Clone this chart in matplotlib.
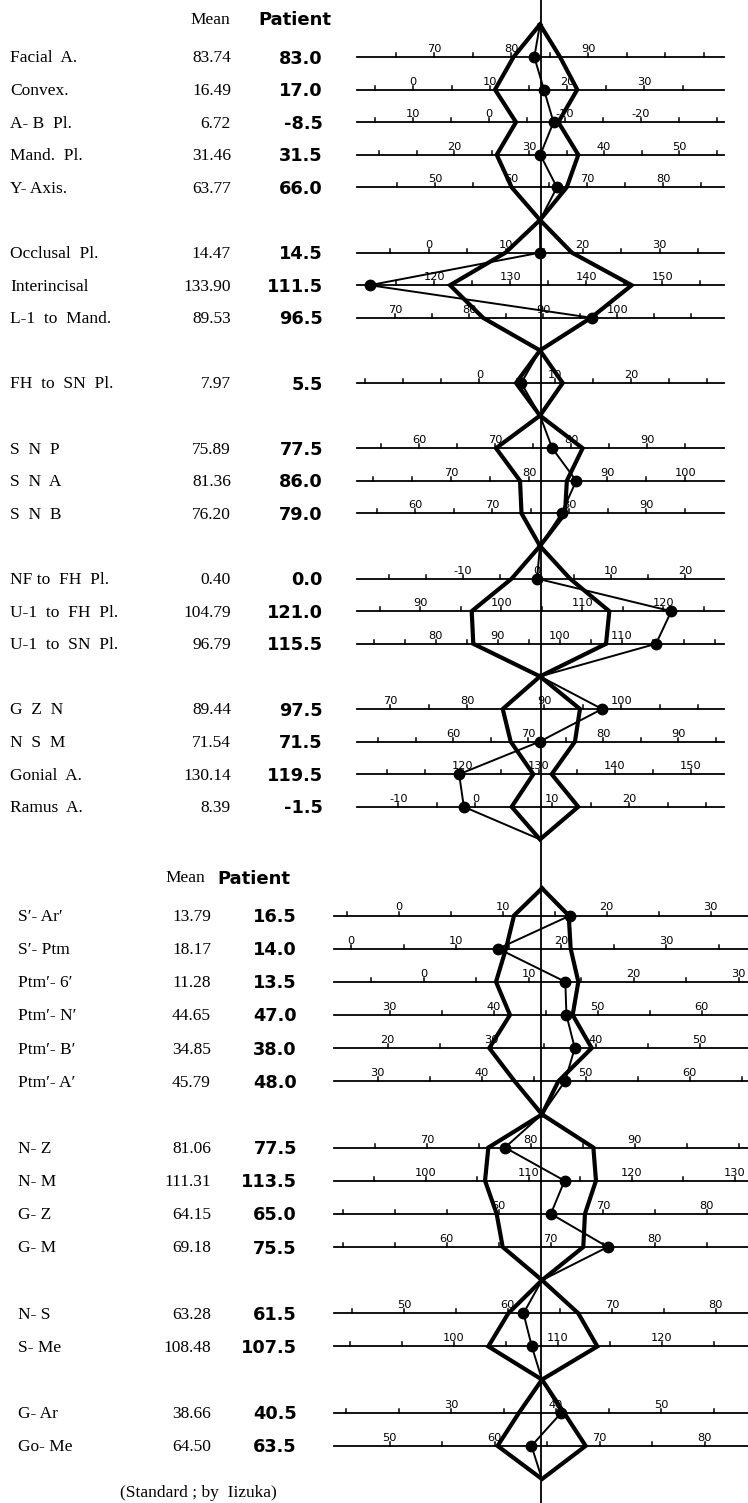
import matplotlib

matplotlib.use("Agg")
import matplotlib.pyplot as plt
import numpy as np

# ---- upper block: angular measurements ----
top_names = [
    "Facial  A.", "Convex.", "A- B  Pl.", "Mand.  Pl.", "Y- Axis.",
    "Occlusal  Pl.", "Interincisal", "L-1  to  Mand.",
    "FH  to  SN  Pl.",
    "S  N  P", "S  N  A", "S  N  B",
    "NF to  FH  Pl.", "U-1  to  FH  Pl.", "U-1  to  SN  Pl.",
    "G  Z  N", "N  S  M", "Gonial  A.", "Ramus  A.",
]
top_means = [83.74, 16.49, 6.72, 31.46, 63.77, 14.47, 133.90, 89.53, 7.97,
             75.89, 81.36, 76.20, 0.40, 104.79, 96.79, 89.44, 71.54, 130.14, 8.39]
top_patient = [83.0, 17.0, -8.5, 31.5, 66.0, 14.5, 111.5, 96.5, 5.5,
               77.5, 86.0, 79.0, 0.0, 121.0, 115.5, 97.5, 71.5, 119.5, -1.5]
# edges of the standard polygon, in each row's own units
top_norm_lo = [80.3, 10.65, -9.13, 25.69, 60.05, 10.0, 122.06, 81.83, 4.81,
               70.1, 78.8, 73.8, -3.42, 96.36, 86.03, 84.6, 67.63, 129.26, 4.71]
top_norm_hi = [86.34, 21.33, -3.56, 36.57, 67.28, 18.6, 145.97, 96.42, 10.96,
               81.5, 84.8, 79.45, 4.45, 113.35, 107.44, 94.63, 76.2, 131.68, 13.36]
top_ticklabels = [
    [70, 80, 90], [0, 10, 20, 30], [10, 0, -10, -20], [20, 30, 40, 50],
    [50, 60, 70, 80], [0, 10, 20, 30], [120, 130, 140, 150], [70, 80, 90, 100],
    [0, 10, 20], [60, 70, 80, 90], [70, 80, 90, 100], [60, 70, 80, 90],
    [-10, 0, 10, 20], [90, 100, 110, 120], [80, 90, 100, 110],
    [70, 80, 90, 100], [60, 70, 80, 90], [120, 130, 140, 150], [-10, 0, 10, 20],
]
top_groups = [5, 3, 1, 3, 3, 4]
top_flipped = ["A- B  Pl."]  # scale runs right to left, mean read as negative

# ---- lower block: linear measurements ----
bot_names = [
    "S\u2032- Ar\u2032", "S\u2032- Ptm", "Ptm\u2032- 6\u2032", "Ptm\u2032- N\u2032",
    "Ptm\u2032- B\u2032", "Ptm\u2032- A\u2032",
    "N- Z", "N- M", "G- Z", "G- M",
    "N- S", "S- Me",
    "G- Ar", "Go- Me",
]
bot_means = [13.79, 18.17, 11.28, 44.65, 34.85, 45.79, 81.06, 111.31,
             64.15, 69.18, 63.28, 108.48, 38.66, 64.50]
bot_patient = [16.5, 14.0, 13.5, 47.0, 38.0, 48.0, 77.5, 113.5,
               65.0, 75.5, 61.5, 107.5, 40.5, 63.5]
bot_norm_lo = [11.1, 14.74, 6.9, 41.57, 29.78, 43.16, 75.9, 105.78,
               59.79, 65.4, 60.04, 103.32, 36.47, 60.27]
bot_norm_hi = [16.36, 20.9, 14.74, 47.6, 39.63, 47.36, 86.0, 116.55,
               68.28, 73.15, 66.77, 113.8, 40.76, 68.66]
bot_ticklabels = [
    [0, 10, 20, 30], [0, 10, 20, 30], [0, 10, 20, 30], [30, 40, 50, 60],
    [20, 30, 40, 50], [30, 40, 50, 60], [70, 80, 90], [100, 110, 120, 130],
    [60, 70, 80], [60, 70, 80], [50, 60, 70, 80], [100, 110, 120],
    [30, 40, 50], [50, 60, 70, 80],
]
bot_groups = [6, 4, 2, 2]

# ---- layout (pixels) ----
W, H = 748, 1503
CENTER_X = 541
top_layout = dict(x0=540, y0=57, pitch=32.6, apex=1.0, line=(357, 724),
                  name_x=10, mean_x=231, pat_x=323, head_mean=230, head_pat=258,
                  scale=[7.7, 7.7, 7.6, 7.5, 7.6, 7.7, 7.6, 7.4, 7.6, 7.6,
                         7.8, 7.7, 7.4, 8.1, 6.2, 7.7, 7.5, 7.6, 7.7])
bot_layout = dict(x0=542, y0=915.5, pitch=33.15, apex=0.82, line=(334, 748),
                  name_x=18, mean_x=211, pat_x=297, head_mean=205, head_pat=217,
                  scale=[10.4, 10.5, 10.5, 10.4, 10.4, 10.4, 10.4, 10.3,
                         10.4, 10.4, 10.4, 10.4, 10.5, 10.5])

SERIF = ["Liberation Serif", "DejaVu Serif"]
SANS = ["DejaVu Sans"]


def draw_block(ax, names, means, patient, lo, hi, ticklabels, groups, flipped, lay):
    x0, k_list = lay["x0"], lay["scale"]

    # row positions: one empty slot between groups
    rows_y, slot = [], 0
    group_rows = []
    for g in groups:
        idx = []
        for _ in range(g):
            rows_y.append(lay["y0"] + lay["pitch"] * slot)
            idx.append(len(rows_y) - 1)
            slot += 1
        group_rows.append(idx)
        slot += 1

    def to_x(i, v):
        d = -1 if names[i] in flipped else 1
        c = -means[i] if names[i] in flipped else means[i]
        return x0 + d * k_list[i] * (v - c)

    xl, xr = lay["line"]
    for i, y in enumerate(rows_y):
        ax.plot([xl, xr], [y, y], color="black", lw=1.3, zorder=1)

        # minor ticks every 5 units
        d = -1 if names[i] in flipped else 1
        c = -means[i] if names[i] in flipped else means[i]
        va, vb = c + (xl + 6 - x0) / (d * k_list[i]), c + (xr - 6 - x0) / (d * k_list[i])
        for t in np.arange(np.ceil(min(va, vb) / 5) * 5, max(va, vb), 5):
            tx = to_x(i, t)
            ax.plot([tx, tx], [y, y - 4], color="black", lw=1.1, zorder=1)
        for t in ticklabels[i]:
            ax.text(to_x(i, t), y - 5, f"{t}", ha="center", va="baseline",
                    fontsize=8.2, family=SANS)

        ax.text(lay["name_x"], y + 1.5, names[i], ha="left", va="center",
                fontsize=12.5, family=SERIF)
        ax.text(lay["mean_x"], y + 1.5, f"{means[i]:.2f}", ha="right", va="center",
                fontsize=12.5, family=SERIF)
        ax.text(lay["pat_x"], y + 1.5, f"{patient[i]:.1f}", ha="right", va="center",
                fontsize=12.8, family=SANS, weight="bold")

    head_y = rows_y[0] - 37
    ax.text(lay["head_mean"], head_y, "Mean", ha="right", va="center",
            fontsize=12.5, family=SERIF)
    ax.text(lay["head_pat"], head_y, "Patient", ha="left", va="center",
            fontsize=13, family=SANS, weight="bold")

    # standard polygon and patient line, one closed shape per group
    for gi, idx in enumerate(group_rows):
        off = lay["apex"] if gi == 0 else 1.0
        y_top = rows_y[idx[0]] - lay["pitch"] * off
        y_bot = rows_y[idx[-1]] + lay["pitch"]
        left = [min(to_x(i, lo[i]), to_x(i, hi[i])) for i in idx]
        right = [max(to_x(i, lo[i]), to_x(i, hi[i])) for i in idx]
        ys = [rows_y[i] for i in idx]
        px = [x0] + left + [x0] + right[::-1] + [x0]
        py = [y_top] + ys + [y_bot] + ys[::-1] + [y_top]
        ax.plot(px, py, color="black", lw=3.0, solid_joinstyle="miter", zorder=3)

        pts = [to_x(i, patient[i]) for i in idx]
        ax.plot([x0] + pts + [x0], [y_top] + ys + [y_bot], color="black",
                lw=1.4, zorder=4)
        ax.plot(pts, ys, "o", color="black", ms=7.5, zorder=5)


fig = plt.figure(figsize=(W / 100, H / 100), dpi=100)
ax = fig.add_axes([0, 0, 1, 1])
ax.set_xlim(0, W)
ax.set_ylim(H, 0)
ax.axis("off")

ax.plot([CENTER_X, CENTER_X], [0, H], color="black", lw=1.3, zorder=2)

draw_block(ax, top_names, top_means, top_patient, top_norm_lo, top_norm_hi,
           top_ticklabels, top_groups, top_flipped, top_layout)
draw_block(ax, bot_names, bot_means, bot_patient, bot_norm_lo, bot_norm_hi,
           bot_ticklabels, bot_groups, [], bot_layout)

ax.text(120, 1493, "(Standard ; by  Iizuka)", ha="left", va="center",
        fontsize=12.5, family=SERIF)

fig.savefig("out.png", dpi=100)
